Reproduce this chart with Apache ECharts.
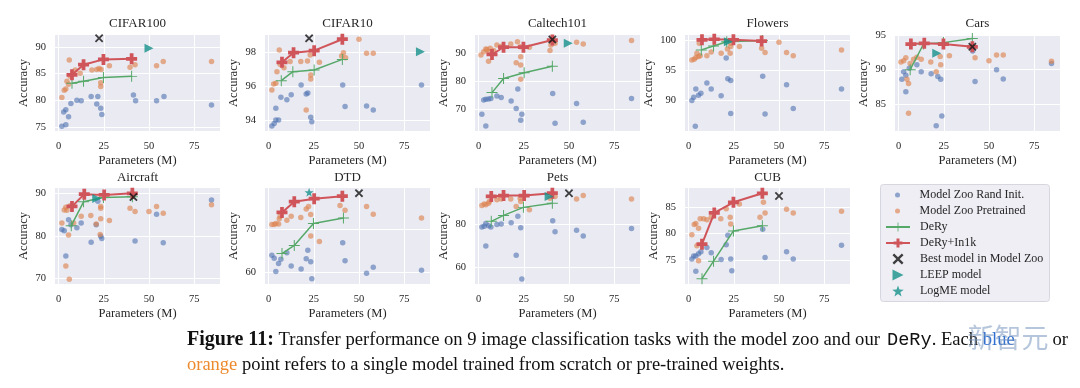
<!DOCTYPE html>
<html><head><meta charset="utf-8">
<script src="https://cdn.jsdelivr.net/npm/echarts@6/dist/echarts.min.js"></script>
<style>html,body{margin:0;padding:0;background:#fff}#c{width:1080px;height:388px}</style>
</head><body><div id="c"></div>
<script>
const datasets = ['CIFAR100','CIFAR10','Caltech101','Flowers','Cars','Aircraft','DTD','Pets','CUB'];
const xTicks = [0,25,50,75];
const yTicks = [[75,80,85,90],[94,96,98],[70,80,90],[90,95,100],[85,90,95],[70,80,90],[60,70],[60,80],[75,80,85]];
const yRanges = [[74.2,92.3],[93.35,99.05],[62.1,96.6],[85.0,100.8],[81.15,95.0],[68.7,91.24],[57.3,79.7],[52.4,96.5],[70.5,88.6]];
const xRange = [-2,89.3];

// ---- CIFAR100
const cifar100Rand = [[1.8,75.1],[4,75.4],[2.8,77.8],[4,78.2],[5.5,76.9],[6.8,79.4],[10.1,80.0],[12.5,79.9],[18,80.7],[21.1,79.3],[21.7,80.7],[23.3,78.5],[23.9,77.3],[41.4,81.0],[42.6,79.9],[54.2,79.9],[58.3,80.7],[84.6,79.1]];
const cifar100Pre = [[1.8,80.5],[3.1,81.9],[4,82.1],[4.6,83.6],[5.9,87.6],[5.5,83.0],[6.4,84.5],[9.2,85.7],[11.9,85.1],[18.4,85.7],[21.1,85.8],[22.4,86.0],[23.5,85.8],[23.3,83.3],[23.3,82.6],[28.1,86.5],[39.5,86.2],[42.3,86.7],[54.2,86.5],[57.9,87.3],[84.6,87.3]];
const cifar100Dery = [[7.4,83.2],[13.8,83.6],[24.8,84.3],[40.4,84.5]];
const cifar100DeryIn1k = [[7.4,84.8],[13.8,86.7],[24.8,87.7],[40.4,87.8]];
const cifar100Best = [[22.4,91.7]];
const cifar100Leep = [[50,89.8]];
// ---- CIFAR10
const cifar10Rand = [[1.8,93.64],[3.1,93.8],[4,94.0],[5.5,94.0],[4,94.7],[6.8,95.35],[10.1,95.2],[12.5,95.5],[18,96.08],[20.8,95.54],[21.7,95.6],[23.3,94.16],[23.9,93.9],[41,96.08],[42.3,94.8],[54.2,94.83],[57.9,94.6],[84.6,96.08]];
const cifar10Pre = [[1.8,95.78],[2.8,96.14],[4,96.18],[4.6,96.87],[5.9,98.16],[6.4,97.3],[8.5,97.1],[11.9,97.47],[17.8,97.47],[21.5,97.5],[23,97.86],[23.3,96.67],[23.3,96.44],[20.8,94.6],[28.1,97.43],[40.4,97.8],[41.4,98.0],[42.6,97.7],[50,98.8],[54.2,97.96],[57.9,97.96]];
const cifar10Dery = [[7,96.34],[13.4,96.87],[25.2,96.97],[40.8,97.6]];
const cifar10DeryIn1k = [[7.4,97.43],[13.8,98.0],[25.2,98.12],[40.8,98.8]];
const cifar10Best = [[22.4,98.85]];
const cifar10Leep = [[84,98.06]];
// ---- Caltech101
const caltechRand = [[1.8,68.1],[4,63.9],[2.8,73.2],[4,73.5],[5.5,73.6],[6.8,73.8],[10.1,74.7],[12.5,74.1],[18,72.9],[20.8,70.2],[21.7,77.2],[23.3,66.0],[23.9,68.1],[41,75.6],[42.3,64.9],[54.2,72.0],[57.9,65.2],[84.6,73.8]];
const caltechPre = [[1.3,89.4],[2.8,90.6],[4,91.6],[4.6,91.4],[5.5,90.6],[5.5,87.2],[6.4,91.8],[8.3,91.0],[10.1,93.0],[12.5,92.6],[17.8,93.4],[21.5,94.2],[23,92.4],[20.8,86.6],[23.3,88.8],[23.3,85.8],[23.3,80.7],[28.1,92.2],[39.5,91.0],[40,93.0],[42.3,93.6],[54.2,94.0],[57.9,93.4],[84.6,94.6]];
const caltechDery = [[7.4,75.9],[13.8,81.0],[25.2,83.05],[40.8,85.4]];
const caltechDeryIn1k = [[7.4,89.6],[13.8,92.2],[24.8,92.2],[40.8,94.8]];
const caltechBest = [[40.8,95.0]];
const caltechLeep = [[49.6,93.6]];
// ---- Flowers
const flowersRand = [[3.7,85.8],[1.8,90.0],[2.8,90.55],[4,91.9],[5.5,90.9],[6.8,91.2],[10.1,92.9],[12.5,91.9],[18,90.8],[20.8,97.0],[21.7,93.6],[23.3,93.3],[23.3,87.9],[41,94.0],[42.3,87.8],[54.2,92.6],[57.9,88.7],[84.6,91.9]];
const flowersPre = [[1.8,96.7],[3.1,96.8],[4,97.1],[4.6,97.8],[5.5,97.25],[5.9,99.45],[6.4,97.4],[10.1,97.4],[12.5,98.0],[18,97.8],[21.5,98.5],[23,97.8],[23.3,98.9],[23.3,99.45],[28.1,98.9],[40.4,98.6],[42.3,97.9],[50,99.6],[54.2,97.9],[57.9,97.4],[84.6,98.35]];
const flowersDery = [[7,98.35],[13.8,99.0],[21.1,99.7],[40.8,99.9]];
const flowersDeryIn1k = [[7.4,100],[14.2,100.1],[24.8,100],[40.4,99.8]];
const flowersBest = [];
const flowersLeep = [[22,99.7]];
// ---- Cars
const carsRand = [[1.8,88.6],[2.8,89.7],[4,89.2],[4,86.8],[5.9,90.2],[10.1,90.7],[12.5,89.7],[18,89.4],[20.8,81.9],[21.7,89.0],[23.3,88.6],[23.9,83.3],[41,92.7],[42.3,88.3],[54.2,90.0],[57.9,88.65],[84.6,90.9]];
const carsPre = [[1.3,91.1],[2.8,91.3],[4,91.7],[4.6,88.6],[5.5,88.0],[5.5,83.7],[6.4,90.9],[8.3,91.5],[10.1,91.8],[12.5,91.5],[17.8,91.1],[20.8,89.7],[23,91.9],[23.3,90.7],[28.1,92.0],[42.3,91.7],[50,91.3],[54.2,92.1],[57.9,92.1],[84.6,91.2]];
const carsDery = [[6.4,90.0],[13.8,93.7],[24.8,93.9],[40.8,94.5]];
const carsDeryIn1k = [[6.8,93.7],[14.2,93.8],[24.8,93.7],[40.8,93.3]];
const carsBest = [[40.8,93.3]];
const carsLeep = [[21.1,92.35]];
// ---- Aircraft
const aircraftRand = [[1.8,81.5],[3.1,81.2],[4,75.3],[5.5,83.8],[6.8,82.6],[10.1,81.9],[12.5,83.0],[18,78.5],[20.8,82.6],[21.7,88.1],[23.3,79.9],[23.9,79.4],[42.3,78.8],[54.2,85.1],[57.9,78.4],[84.6,88.4]];
const aircraftPre = [[1.8,83.0],[3.1,86.1],[4,86.7],[4.6,86.0],[5.5,80.2],[4,72.9],[5.9,69.8],[6.4,87.1],[8.3,83.0],[12.5,84.6],[17.8,84.8],[20.8,82.8],[23,80.3],[23.3,86.9],[23.3,86.5],[23.3,84.0],[28.1,83.6],[39.5,86.5],[42.3,85.7],[50,85.7],[54.2,86.9],[57.9,85.3],[84.6,87.3]];
const aircraftDery = [[7,82.4],[13.8,88.0],[24.8,89.0],[40.8,89.2]];
const aircraftDeryIn1k = [[7.4,86.9],[14.2,89.8],[25.2,89.6],[40.8,90.0]];
const aircraftBest = [[41.4,89.1]];
const aircraftLeep = [[21.1,88.8]];
// ---- DTD
const dtdRand = [[1.8,64.0],[3.1,63.3],[4,60.2],[5.5,62.1],[6.8,63.1],[10.1,64.6],[12.5,61.5],[18,60.8],[20.8,63.2],[21.7,65.2],[23.3,62.5],[23.9,58.5],[41,66.9],[42.3,62.7],[54.2,59.8],[57.9,61.2],[84.6,60.5]];
const dtdPre = [[1.8,71.2],[3.1,71.2],[4,71.4],[5.5,71.3],[5.9,72.5],[6.4,73.1],[10.1,72.2],[12.5,73.1],[17.8,72.8],[20.8,74.8],[22.1,75.4],[23.3,73.5],[23.3,68.5],[28.1,67.2],[39.5,75.6],[42.3,74.5],[54.2,75.4],[57.9,73.6],[84.6,72.7]];
const dtdDery = [[7.4,64.4],[14.2,66.3],[24.8,71.4],[41.4,72.7]];
const dtdDeryIn1k = [[7.4,74.0],[14.2,76.5],[25.2,77.2],[40.8,77.8]];
const dtdBest = [[50,78.5]];
const dtdLogme = [[22.4,78.7]];
// ---- Pets
const petsRand = [[1.8,78.6],[3.1,78.9],[4,80.2],[5.5,79.2],[6.8,78.6],[10.1,79.7],[12.5,80.0],[18,80.5],[20.8,65.6],[21.7,83.5],[23.3,78.2],[23.9,54.7],[4,69.8],[41,81.5],[42.3,76.4],[54.2,77.1],[57.9,74.4],[84.6,77.9]];
const petsPre = [[1.8,88.5],[3.1,89.1],[4,88.8],[5.5,89.5],[5.9,90.3],[10.1,91.1],[12.5,91.5],[17.8,91.5],[20.8,88.0],[23,91.8],[23.3,90.3],[28.1,86.5],[39.5,91.8],[42.3,92.6],[54.2,91.5],[57.9,93.0],[84.6,91.5]];
const petsDery = [[7,81.2],[13.8,83.9],[24.8,87.6],[40.8,89.5]];
const petsDeryIn1k = [[7,92.6],[13.8,93.0],[25.2,93.0],[40.8,94.1]];
const petsBest = [[50,94.1]];
const petsLeep = [[39,92.6]];
// ---- CUB
const cubRand = [[1.8,75.2],[2.8,75.8],[4,75.8],[5.5,76.2],[6.8,76.6],[10.1,77.4],[12.5,76.4],[18,75.1],[20.8,77.9],[21.7,79.7],[23.3,75.2],[23.9,73.0],[4,72.9],[41,80.8],[42.3,75.5],[54.2,76.6],[57.9,75.2],[84.6,77.8]];
const cubPre = [[1.8,79.8],[3.1,81.7],[4,81.9],[4.6,77.7],[5.5,74.9],[5.5,81.0],[6.4,82.8],[8.3,82.8],[10.1,82.6],[12.5,83.1],[17.8,82.8],[20.8,84.7],[23,83.1],[23.3,81.8],[28.1,85.6],[39.5,83.1],[41.4,85.9],[42.3,83.9],[54.2,84.6],[57.9,83.9],[84.6,84.2]];
const cubDery = [[7.4,71.5],[13.8,74.8],[24.8,80.5],[40.8,81.5]];
const cubDeryIn1k = [[7.4,78.0],[14.2,83.9],[24.8,85.9],[40.8,87.6]];
const cubBest = [[50,87.1]];

const randInit = [cifar100Rand,cifar10Rand,caltechRand,flowersRand,carsRand,aircraftRand,dtdRand,petsRand,cubRand];
const pretrained = [cifar100Pre,cifar10Pre,caltechPre,flowersPre,carsPre,aircraftPre,dtdPre,petsPre,cubPre];
const dery = [cifar100Dery,cifar10Dery,caltechDery,flowersDery,carsDery,aircraftDery,dtdDery,petsDery,cubDery];
const deryIn1k = [cifar100DeryIn1k,cifar10DeryIn1k,caltechDeryIn1k,flowersDeryIn1k,carsDeryIn1k,aircraftDeryIn1k,dtdDeryIn1k,petsDeryIn1k,cubDeryIn1k];
const bestModel = [cifar100Best,cifar10Best,caltechBest,flowersBest,carsBest,aircraftBest,dtdBest,petsBest,cubBest];
const leepModel = [cifar100Leep,cifar10Leep,caltechLeep,flowersLeep,carsLeep,aircraftLeep,[],petsLeep,[]];
const logmeModel = [[],[],[],[],[],[],dtdLogme,[],[]];

const names = ['Model Zoo Rand Init.','Model Zoo Pretrained','DeRy','DeRy+In1k','Best model in Model Zoo','LEEP model','LogME model'];

const SERIF = "'Liberation Serif','DejaVu Serif',serif";
const MONO = "'Liberation Mono','DejaVu Sans Mono',monospace";
const TXT = '#262626';
const PLUS_FILLED = 'path://M3.3,0H6.7V3.3H10V6.7H6.7V10H3.3V6.7H0V3.3H3.3Z';
const PLUS_THIN = 'path://M4.55,0H5.45V10H4.55ZM0,4.55H10V5.45H0Z';
const XMARK = 'path://M0,1.5L1.5,0L5,3.5L8.5,0L10,1.5L6.5,5L10,8.5L8.5,10L5,6.5L1.5,10L0,8.5L3.5,5Z';
const TRI = 'path://M0,0L10,5L0,10Z';
const STAR = 'path://M5,0L6.176,3.382L9.755,3.455L6.902,5.618L7.939,9.045L5,7L2.061,9.045L3.098,5.618L0.245,3.455L3.824,3.382Z';
const TEAL = '#15918a';

const colLeft = [55,265,475,685,895];
const rowTop = [35,188];
const gw = 165, gh = 96;

const grids = [], xAxes = [], yAxes = [], series = [], graphics = [];
datasets.forEach((name, i) => {
  const r = i < 5 ? 0 : 1, c = i < 5 ? i : i - 5;
  grids.push({left: colLeft[c], top: rowTop[r], width: gw, height: gh, show: true,
    backgroundColor: '#EAEAF2', borderWidth: 0, containLabel: false});
  xAxes.push({type: 'value', gridIndex: i, min: xRange[0], max: xRange[1],
    name: 'Parameters (M)', nameLocation: 'middle', nameGap: 23,
    nameTextStyle: {fontFamily: SERIF, fontSize: 12.5, color: TXT},
    axisLine: {show: false}, axisTick: {show: false, customValues: xTicks},
    axisLabel: {customValues: xTicks, fontFamily: SERIF, fontSize: 10.5, color: TXT, margin: 10},
    splitLine: {show: true, lineStyle: {color: '#ffffff', width: 1}}});
  yAxes.push({type: 'value', gridIndex: i, min: yRanges[i][0], max: yRanges[i][1],
    name: 'Accuracy', nameLocation: 'middle', nameGap: i === 3 ? 30 : 25, nameRotate: 90,
    nameTextStyle: {fontFamily: SERIF, fontSize: 12.5, color: TXT},
    axisLine: {show: false}, axisTick: {show: false, customValues: yTicks[i]},
    axisLabel: {customValues: yTicks[i], fontFamily: SERIF, fontSize: 10.5, color: TXT, margin: 9},
    splitLine: {show: true, lineStyle: {color: '#ffffff', width: 1}}});
  const base = {xAxisIndex: i, yAxisIndex: i};
  series.push(Object.assign({type: 'scatter', name: names[0], data: randInit[i], symbol: 'circle', symbolSize: 5.5,
    itemStyle: {color: '#4C72B0', opacity: 0.6}}, base));
  series.push(Object.assign({type: 'scatter', name: names[1], data: pretrained[i], symbol: 'circle', symbolSize: 5.5,
    itemStyle: {color: '#DD8452', opacity: 0.65}}, base));
  series.push(Object.assign({type: 'line', name: names[2], data: dery[i], symbol: PLUS_THIN, symbolSize: 11,
    showSymbol: true, lineStyle: {color: '#55A868', width: 1.5}, itemStyle: {color: '#55A868'}}, base));
  series.push(Object.assign({type: 'line', name: names[3], data: deryIn1k[i], symbol: PLUS_FILLED, symbolSize: 11,
    showSymbol: true, lineStyle: {color: '#D0555A', width: 2}, itemStyle: {color: '#D0555A'}}, base));
  series.push(Object.assign({type: 'scatter', name: names[4], data: bestModel[i], symbol: XMARK, symbolSize: 8.5,
    itemStyle: {color: '#111111'}, z: 5}, base));
  series.push(Object.assign({type: 'scatter', name: names[5], data: leepModel[i], symbol: TRI, symbolSize: 9,
    itemStyle: {color: TEAL}, z: 5}, base));
  series.push(Object.assign({type: 'scatter', name: names[6], data: logmeModel[i], symbol: STAR, symbolSize: 9,
    itemStyle: {color: TEAL}, z: 5}, base));
  graphics.push({type: 'text', x: colLeft[c] + gw / 2, y: r === 0 ? 24 : 178,
    style: {text: name, align: 'center', verticalAlign: 'middle', fontFamily: SERIF, fontSize: 13, fill: TXT}});
});

graphics.push({type: 'rect', shape: {x: 880.5, y: 184.5, width: 169, height: 117, r: 3},
  style: {fill: '#EEEEF4', stroke: '#D6D6DE', lineWidth: 1}, z: -1});

// caption (justified line 1 emulated with three pieces)
graphics.push({type: 'text', x: 187, y: 340, style: {
  text: '{b|Figure 11:} Transfer performance on 9 image classification tasks with the model zoo and our',
  verticalAlign: 'middle', fontFamily: SERIF, fontSize: 18.6, fill: '#111',
  rich: {b: {fontFamily: SERIF, fontSize: 20, fontWeight: 'bold', fill: '#111'}}}});
graphics.push({type: 'text', x: 887, y: 340, style: {
  text: '{m|DeRy}. Each {u|blue}',
  verticalAlign: 'middle', fontFamily: SERIF, fontSize: 18.6, fill: '#111',
  rich: {m: {fontFamily: MONO, fontSize: 18.6, fill: '#111'},
         u: {fontFamily: SERIF, fontSize: 18.6, fill: '#2f6fd0'}}}});
graphics.push({type: 'text', x: 1068, y: 340, style: {
  text: 'or', align: 'right', verticalAlign: 'middle', fontFamily: SERIF, fontSize: 18.6, fill: '#111'}});
graphics.push({type: 'text', x: 187, y: 365, style: {
  text: '{o|orange} point refers to a single model trained from scratch or pre-trained weights.',
  verticalAlign: 'middle', fontFamily: SERIF, fontSize: 18.5, fill: '#111',
  rich: {o: {fontFamily: SERIF, fontSize: 18.5, fill: '#EE8A2E'}}}});
graphics.push({type: 'text', x: 1008, y: 338, style: {text: '新智元', align: 'center', verticalAlign: 'middle',
  fontFamily: "'Noto Sans CJK SC',sans-serif", fontSize: 27, fill: 'rgba(120,150,190,0.55)'}});

const legendText = {fontFamily: SERIF, fontSize: 12, color: TXT, lineHeight: 16, padding: [0, 0, 0, 5]};
const option = {
  animation: false,
  backgroundColor: '#ffffff',
  grid: grids, xAxis: xAxes, yAxis: yAxes, series: series,
  legend: [
    {orient: 'vertical', left: 895, top: 187, padding: 0, align: 'left', itemWidth: 24, itemHeight: 5, itemGap: 0, selectedMode: false,
     data: [names[0], names[1]], textStyle: legendText},
    {orient: 'vertical', left: 885, top: 219, padding: 0, align: 'left', itemWidth: 24, itemHeight: 11, itemGap: 0, selectedMode: false,
     data: [names[2], names[3], names[4], names[5], names[6]], textStyle: legendText}
  ],
  graphic: graphics
};
const chart = echarts.init(document.getElementById('c'), null, {renderer: 'canvas'});
chart.setOption(option);
</script>
</body></html>
